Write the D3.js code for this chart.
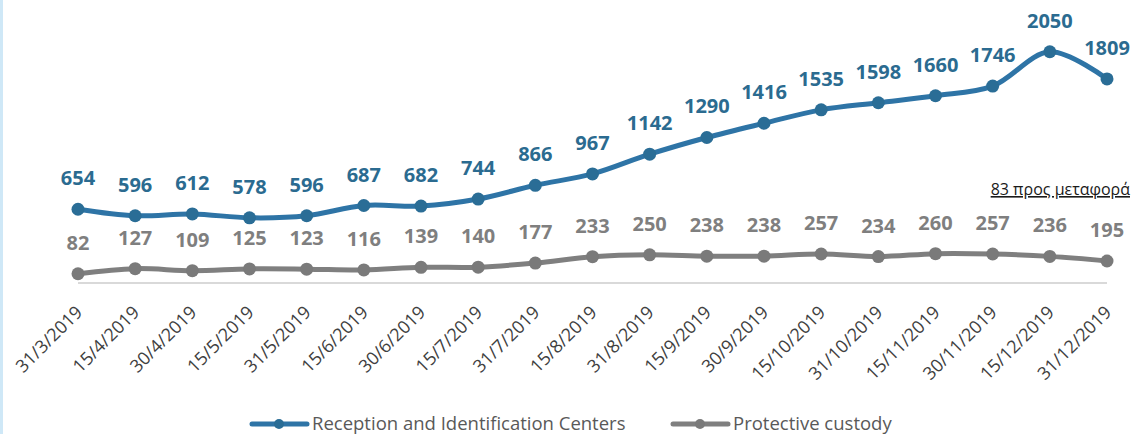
<!DOCTYPE html>
<html>
<head>
  <meta charset="utf-8">
  <title>Reception and Identification Centers vs Protective custody</title>
  <script src="https://d3js.org/d3.v7.min.js"></script>
  <style>
    html, body {
      margin: 0;
      padding: 0;
      background: #fff;
    }
    svg {
      display: block;
      font-family: "Open Sans", "DejaVu Sans", sans-serif;
    }
    .val {
      font-weight: bold;
      font-size: 20px;
    }
    .xlab {
      font-size: 18px;
      fill: #404040;
    }
    .legend text {
      font-size: 18.5px;
      fill: #595959;
    }
  </style>
</head>
<body>
  <svg width="1132" height="434"></svg>

  <script>
    // data
    const dates = ["31/3/2019", "15/4/2019", "30/4/2019", "15/5/2019", "31/5/2019",
      "15/6/2019", "30/6/2019", "15/7/2019", "31/7/2019", "15/8/2019", "31/8/2019",
      "15/9/2019", "30/9/2019", "15/10/2019", "31/10/2019", "15/11/2019",
      "30/11/2019", "15/12/2019", "31/12/2019"];
    const ricValues = [654, 596, 612, 578, 596, 687, 682, 744, 866, 967, 1142,
      1290, 1416, 1535, 1598, 1660, 1746, 2050, 1809];
    const custodyValues = [82, 127, 109, 125, 123, 116, 139, 140, 177, 233, 250,
      238, 238, 257, 234, 260, 257, 236, 195];
    const seriesNames = ["Reception and Identification Centers", "Protective custody"];
    const note = "83 προς μεταφορά";

    const svg = d3.select("svg");

    // thin light-blue strip on the left edge
    svg.append("rect")
      .attr("x", 0).attr("y", 0)
      .attr("width", 3).attr("height", 434)
      .attr("fill", "#cfe8f7");

    const x = d3.scalePoint()
      .domain(dates)
      .range([78, 1107]);

    const y = d3.scaleLinear()
      .domain([0, 2500])
      .range([283, 1]);

    // category axis line
    svg.append("line")
      .attr("x1", x(dates[0])).attr("x2", x(dates[dates.length - 1]))
      .attr("y1", y(0)).attr("y2", y(0))
      .attr("stroke", "#d9d9d9")
      .attr("stroke-width", 2);

    const series = [
      { name: seriesNames[0], values: ricValues, line: "#2e74a6", marker: "#2a6d96", label: "#2b6b90" },
      { name: seriesNames[1], values: custodyValues, line: "#7f7f7f", marker: "#7a7a7a", label: "#7f7f7f" }
    ];

    const line = d3.line()
      .x((d, i) => x(dates[i]))
      .y(d => y(d))
      .curve(d3.curveCatmullRom.alpha(0.5));

    series.forEach(s => {
      svg.append("path")
        .datum(s.values)
        .attr("d", line)
        .attr("fill", "none")
        .attr("stroke", s.line)
        .attr("stroke-width", 5)
        .attr("stroke-linecap", "round");

      svg.selectAll(null)
        .data(s.values)
        .enter().append("circle")
        .attr("cx", (d, i) => x(dates[i]))
        .attr("cy", d => y(d))
        .attr("r", 6.5)
        .attr("fill", s.marker);

      svg.selectAll(null)
        .data(s.values)
        .enter().append("text")
        .attr("class", "val")
        .attr("x", (d, i) => x(dates[i]))
        .attr("y", d => y(d) - 24)
        .attr("text-anchor", "middle")
        .attr("fill", s.label)
        .text(d => d);
    });

    // rotated date labels
    svg.selectAll(".xlab")
      .data(dates)
      .enter().append("text")
      .attr("class", "xlab")
      .attr("text-anchor", "end")
      .attr("transform", d => "translate(" + (x(d) + 1) + ",309) rotate(-45)")
      .attr("dy", "0.35em")
      .text(d => d);

    // note on the right
    svg.append("text")
      .attr("x", 1130)
      .attr("y", 195)
      .attr("text-anchor", "end")
      .attr("font-size", 16)
      .attr("fill", "#1a1a1a")
      .attr("text-decoration", "underline")
      .text(note);

    // legend
    const legend = svg.append("g").attr("class", "legend");
    const legendItems = [
      { x: 252, s: series[0] },
      { x: 673, s: series[1] }
    ];
    legendItems.forEach(it => {
      const g = legend.append("g").attr("transform", "translate(" + it.x + ",424)");
      g.append("line")
        .attr("x1", 0).attr("x2", 55)
        .attr("y1", 0).attr("y2", 0)
        .attr("stroke", it.s.line)
        .attr("stroke-width", 5)
        .attr("stroke-linecap", "round");
      g.append("circle")
        .attr("cx", 27).attr("cy", 0).attr("r", 5)
        .attr("fill", it.s.marker);
      g.append("text")
        .attr("x", 60)
        .attr("y", 0)
        .attr("dy", "0.33em")
        .text(it.s.name);
    });
  </script>
</body>
</html>
